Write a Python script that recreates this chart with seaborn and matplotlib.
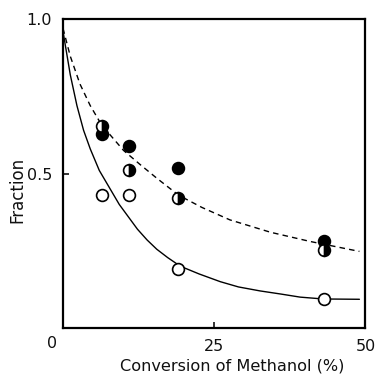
import matplotlib
matplotlib.use("Agg")
import matplotlib.pyplot as plt
import seaborn as sns

# measured points (conversion %, fraction)
conv = [6.4, 10.9, 19.0, 43.2]
frac_open = [0.429, 0.429, 0.191, 0.094]
frac_half = [0.654, 0.513, 0.422, 0.251]
frac_filled = [0.629, 0.589, 0.517, 0.283]

# curves
solid_x = [0.0, 1.2, 2.3, 3.4, 4.5, 6.0, 7.8, 9.3, 10.8, 12.3, 13.9, 15.5, 17.3,
           19.4, 22.5, 26.0, 29.0, 32.6, 36.0, 39.2, 43.0, 49.0]
solid_y = [0.96, 0.82, 0.72, 0.64, 0.58, 0.51, 0.45, 0.40, 0.36, 0.32, 0.285, 0.255, 0.228,
           0.20, 0.175, 0.15, 0.133, 0.12, 0.11, 0.10, 0.094, 0.093]
dash_x = [0.0, 1.2, 2.8, 4.5, 6.0, 7.8, 10.0, 12.7, 15.5, 19.1, 23.0, 27.6, 34.3, 40.9, 49.0]
dash_y = [0.97, 0.88, 0.79, 0.72, 0.67, 0.625, 0.575, 0.53, 0.485, 0.43, 0.39, 0.35, 0.31, 0.28, 0.248]

sns.set_style("ticks")
plt.rcParams["font.family"] = ["DejaVu Sans"]

fig = plt.figure(figsize=(3.76, 3.75), dpi=100)
ax = fig.add_axes([0.1676, 0.1253, 0.8044, 0.8237])

sns.lineplot(x=solid_x, y=solid_y, ax=ax, color="black", linewidth=1.0, sort=False)
sns.lineplot(x=dash_x, y=dash_y, ax=ax, color="black", linewidth=1.0, sort=False,
             linestyle=(0, (4, 3)))

ms = 8.5
sns.scatterplot(x=conv, y=frac_open, ax=ax, marker="o", s=ms ** 2,
                facecolor="white", edgecolor="black", linewidth=1.2, zorder=5)
sns.scatterplot(x=conv, y=frac_filled, ax=ax, marker="o", s=ms ** 2,
                color="black", edgecolor="black", linewidth=1.2, zorder=5)
ax.plot(conv, frac_half, linestyle="", marker="o", markersize=ms,
        fillstyle="right", markerfacecolor="black", markerfacecoloralt="white",
        markeredgecolor="black", markeredgewidth=1.2, zorder=6)

ax.set_xlim(0, 50)
ax.set_ylim(0, 1.0)
ax.set_xticks([25, 50])
ax.set_xticklabels(["25", "50"])
ax.set_yticks([0.5, 1.0])
ax.set_yticklabels(["0.5", "1.0"])
ax.tick_params(direction="in", length=4, width=1.2, labelsize=11.5, pad=8, colors="#111111")

for s in ax.spines.values():
    s.set_visible(True)
    s.set_linewidth(1.6)
    s.set_color("black")

# origin label and axis titles placed in figure pixels
fig.text(52 / 376, 1 - 343 / 375, "0", ha="center", va="center", fontsize=11.5, color="#111111")
fig.text(232 / 376, 1 - 366 / 375, "Conversion of Methanol (%)", ha="center",
         va="center", fontsize=11.6, color="#111111")
fig.text(17 / 376, 1 - 190 / 375, "Fraction", ha="center", va="center",
         rotation=90, fontsize=12, color="#111111")

fig.savefig("out.png", dpi=100)
